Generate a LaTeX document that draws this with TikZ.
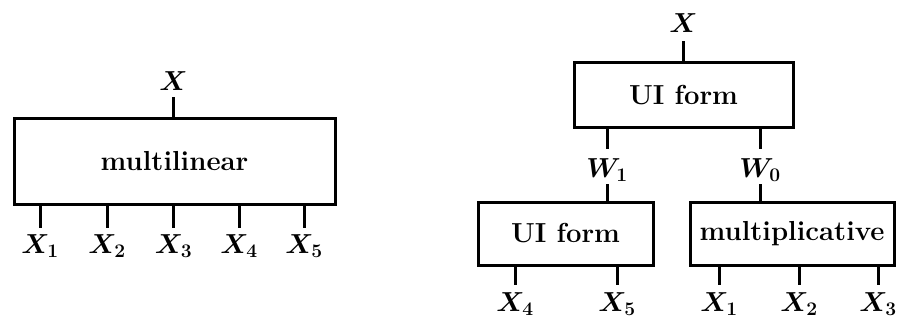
\RequirePackage{fix-cm}
\documentclass[tikz,border=0pt]{standalone}
\begin{document}
\fontsize{27.5}{33}\selectfont\bfseries\boldmath
\begin{tikzpicture}[x=1pt,y=1pt,
  box/.style={draw,line width=3pt,inner sep=0pt,anchor=center},
  lab/.style={inner sep=0pt},
  stub/.style={line width=3pt}]
\useasboundingbox (0,0) rectangle (897,322);
% left diagram
\node[box,minimum width=321pt,minimum height=86pt] (ml) at (174.5,161) {multilinear};
\node[lab,anchor=south] (mx) at (173.5,231) {$X$};
\draw[stub,shorten >=6pt] (ml.north -| mx) -- (mx.south);
\foreach \n/\px in {1/40,2/107,3/173.5,4/239,5/304}{
  \node[lab,anchor=north] (a\n) at (\px,88) {$X_{\n}$};
  \draw[stub,shorten >=6pt] (ml.south -| a\n) -- (a\n.north);
}
% right diagram
\node[box,minimum width=219pt,minimum height=64pt] (ui) at (683.5,227) {UI form};
\node[lab,anchor=south] (rx) at (683.5,289) {$X$};
\draw[stub,shorten >=8pt] (ui.north -| rx) -- (rx.south);
\node[box,minimum width=175pt,minimum height=63pt] (ui2) at (565.5,88.5) {UI form};
\node[box,minimum width=204pt,minimum height=63pt] (mu) at (792,88.5) {multiplicative};
\node[lab,anchor=north] (w1) at (607,164) {$W_1$};
\node[lab,anchor=north] (w0) at (760,164) {$W_0$};
\draw[stub,shorten >=9pt] (ui.south -| w1) -- (w1.north);
\draw[stub,shorten >=9pt] (ui.south -| w0) -- (w0.north);
\draw[stub,shorten >=3pt] (ui2.north -| w1) -- (w1.south);
\draw[stub,shorten >=3pt] (mu.north -| w0) -- (w0.south);
\foreach \n/\px/\b in {4/515/ui2,5/617/ui2,1/719/mu,2/799/mu,3/878/mu}{
  \node[lab,anchor=north] (b\n) at (\px,30) {$X_{\n}$};
  \draw[stub,shorten >=7pt] (\b.south -| b\n) -- (b\n.north);
}
\end{tikzpicture}
\end{document}
